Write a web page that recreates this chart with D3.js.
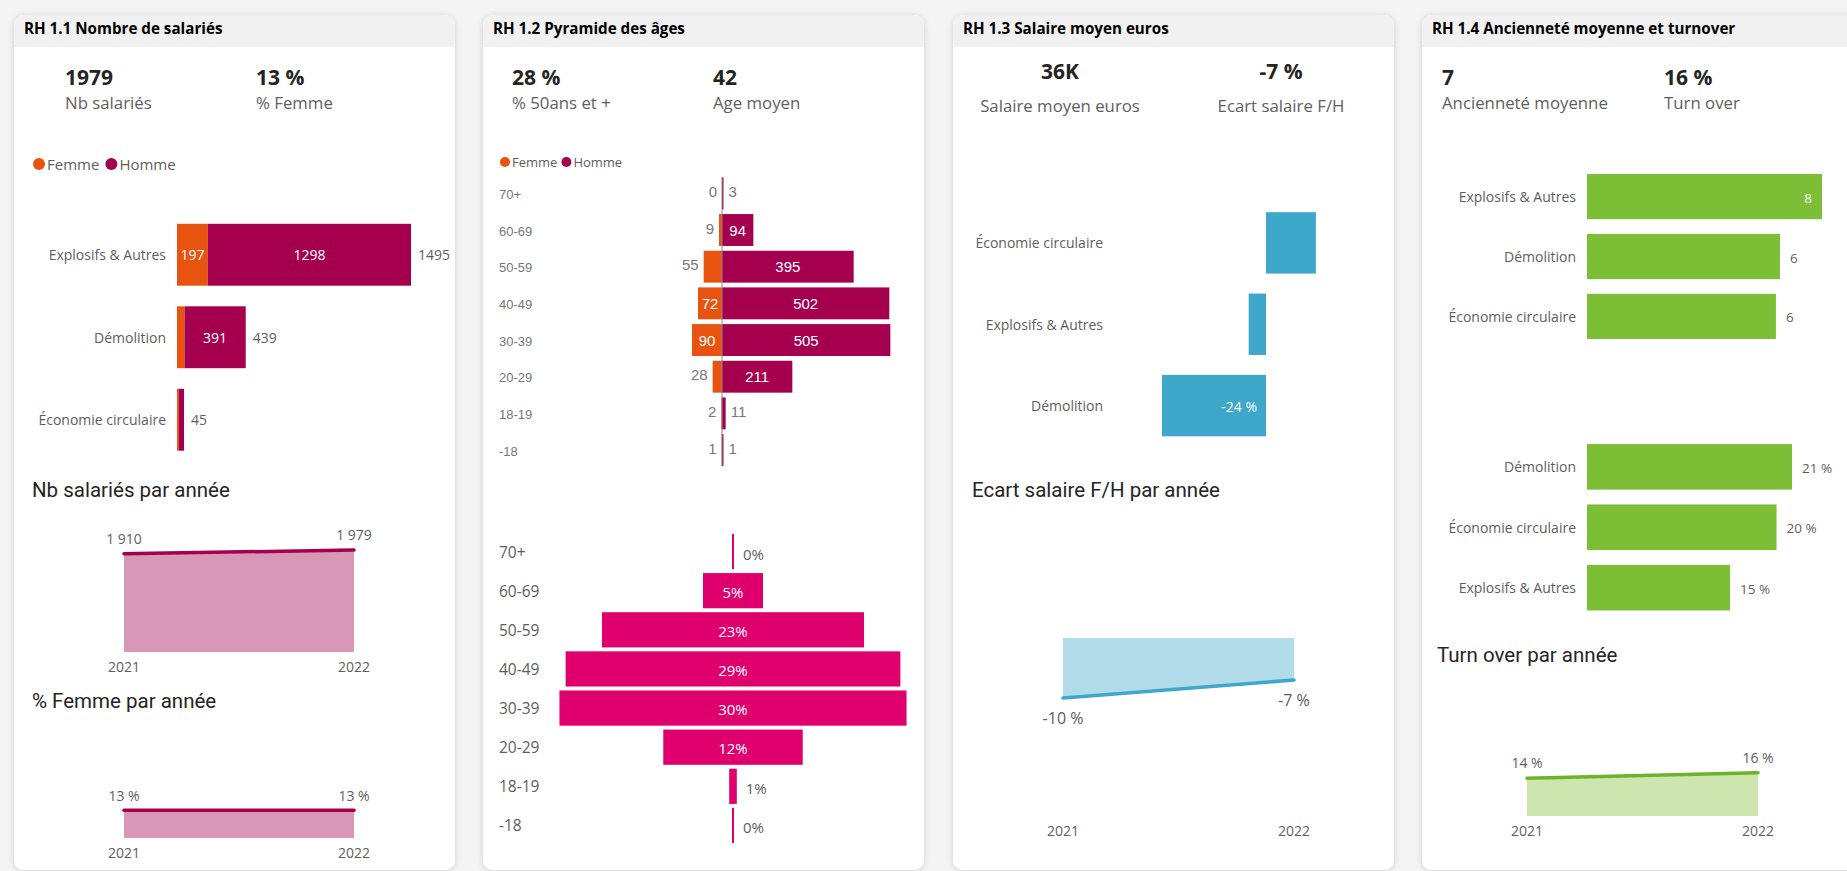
<!DOCTYPE html>
<html>
<head>
<meta charset="utf-8">
<script src="https://cdn.jsdelivr.net/npm/d3@7"></script>
<style>
  html, body { margin: 0; padding: 0; background: #f4f4f4; }
  svg { display: block; }
</style>
</head>
<body>
<svg id="dash" width="1847" height="871"></svg>
<script>
// ---------- Données ----------
const divisions = ["Explosifs & Autres", "Démolition", "Économie circulaire"];
const effectifFemme = [197, 48, 12];
const effectifHomme = [1298, 391, 33];

const years = ["2021", "2022"];
const effectifParAnnee = [1910, 1979];
const partFemmeParAnnee = [0.13, 0.13];

const ageGroups = ["70+", "60-69", "50-59", "40-49", "30-39", "20-29", "18-19", "-18"];
const ageFemme = [0, 9, 55, 72, 90, 28, 2, 1];
const ageHomme = [3, 94, 395, 502, 505, 211, 11, 1];
const agePart = [0.0015, 0.052, 0.227, 0.29, 0.3007, 0.1208, 0.0066, 0.001];

const ecartDivisions = ["Économie circulaire", "Explosifs & Autres", "Démolition"];
const ecartSalaire = [0.115, -0.04, -0.24];
const ecartParAnnee = [-0.10, -0.07];

const ancDivisions = ["Explosifs & Autres", "Démolition", "Économie circulaire"];
const anciennete = [7.6, 6.24, 6.11];

const turnDivisions = ["Démolition", "Économie circulaire", "Explosifs & Autres"];
const turnover = [0.212, 0.196, 0.148];
const turnoverParAnnee = [0.14, 0.16];

const panelTitles = ["RH 1.1 Nombre de salariés", "RH 1.2 Pyramide des âges",
                     "RH 1.3 Salaire moyen euros", "RH 1.4 Ancienneté moyenne et turnover"];
const kpiLabels = [["Nb salariés", "% Femme"], ["% 50ans et +", "Age moyen"],
                   ["Salaire moyen euros", "Ecart salaire F/H"], ["Ancienneté moyenne", "Turn over"]];
const kpiValues = [[1979, 0.13], [0.28, 42], [36000, -0.07], [7, 0.16]];
const kpiKinds  = [["int", "pct"], ["pct", "int"], ["k", "pct"], ["int", "pct"]];

// ---------- Styles ----------
const F_UI = "'Segoe UI', 'Open Sans', sans-serif";
const F_AR = "Arial, 'Liberation Sans', sans-serif";
const F_DIN = "'DIN', Roboto, sans-serif";
const C = {
  femme: "#e8540f", homme: "#a4004f", rose: "#e0006d",
  bleu: "#3ea8ca", bleuClair: "#b3dcea", vert: "#7cbe35", vertLigne: "#6db32a", vertClair: "#cde5ae",
  roseClair: "#d997b6", texte: "#252423", gris: "#605e5c", grisClair: "#777"
};

const fr = d3.formatLocale({decimal: ",", thousands: "\u00a0", grouping: [3], currency: ["", " €"], minus: "-"});
const fmtInt = fr.format(",d");
const fmtPct = v => fr.format(".0f")(v * 100) + " %";
const fmtPctTight = v => fr.format(".0f")(v * 100) + "%";
const fmtKpi = (v, k) => k === "pct" ? fmtPct(v) : k === "k" ? fr.format(".0f")(v / 1000) + "K" : fr.format("d")(v);

const svg = d3.select("#dash");

// ombre des cartes
const defs = svg.append("defs");
const sh = defs.append("filter").attr("id", "ombre").attr("x", "-5%").attr("y", "-5%").attr("width", "110%").attr("height", "110%");
sh.append("feDropShadow").attr("dx", 0).attr("dy", 1).attr("stdDeviation", 3)
  .attr("flood-color", "#000").attr("flood-opacity", 0.16);

function txt(g, x, y, s, o = {}) {
  return g.append("text").attr("x", x).attr("y", y).text(s)
    .attr("font-family", o.font || F_UI).attr("font-size", o.size || 14)
    .attr("font-weight", o.weight || 400).attr("fill", o.fill || C.gris)
    .attr("text-anchor", o.anchor || "start")
    .attr("dominant-baseline", o.baseline || "auto");
}
function textWidth(s, size, font, weight) {
  const t = svg.append("text").text(s).attr("font-size", size).attr("font-family", font)
    .attr("font-weight", weight || 400).attr("visibility", "hidden");
  const w = t.node().getComputedTextLength();
  t.remove();
  return w;
}

// ---------- Cartes ----------
const cardLeft = [14, 483, 953, 1422];
const cardW = 441, cardTop = 15, cardBottom = 870, headH = 32, rad = 10;

cardLeft.forEach((x0, i) => {
  svg.append("rect").attr("x", x0).attr("y", cardTop).attr("width", cardW)
    .attr("height", cardBottom - cardTop).attr("rx", rad).attr("fill", "#fff").attr("filter", "url(#ombre)");
  const p = d3.path();
  p.moveTo(x0, cardTop + headH);
  p.lineTo(x0, cardTop + rad);
  p.arcTo(x0, cardTop, x0 + rad, cardTop, rad);
  p.lineTo(x0 + cardW - rad, cardTop);
  p.arcTo(x0 + cardW, cardTop, x0 + cardW, cardTop + rad, rad);
  p.lineTo(x0 + cardW, cardTop + headH);
  p.closePath();
  svg.append("path").attr("d", p.toString()).attr("fill", "#f1f1f1");
  txt(svg, x0 + 10, 34, panelTitles[i], {size: 15.2, weight: 700, fill: "#000"});
});

// ---------- KPI ----------
const kpiPos = [
  {x: [65, 256], anchor: "start", yv: 85, yl: 109},
  {x: [512, 713], anchor: "start", yv: 85, yl: 109},
  {x: [1060, 1281], anchor: "middle", yv: 79, yl: 112},
  {x: [1442, 1664], anchor: "start", yv: 85, yl: 109}
];
kpiPos.forEach((p, i) => {
  [0, 1].forEach(j => {
    txt(svg, p.x[j], p.yv, fmtKpi(kpiValues[i][j], kpiKinds[i][j]), {size: 21, weight: 700, fill: C.texte, anchor: p.anchor});
    txt(svg, p.x[j], p.yl, kpiLabels[i][j], {size: 16.8, fill: C.gris, anchor: p.anchor});
  });
});

// ---------- Légendes ----------
function legend(x, y, r, size, gap) {
  const g = svg.append("g");
  let cx = x;
  [["Femme", C.femme], ["Homme", C.homme]].forEach(([lab, col]) => {
    g.append("circle").attr("cx", cx + r).attr("cy", y).attr("r", r).attr("fill", col);
    const t = txt(g, cx + 2 * r + 2, y, lab, {size, fill: C.gris, baseline: "central"});
    cx += 2 * r + 2 + t.node().getComputedTextLength() + gap;
  });
}
legend(33, 164, 6, 15, 6);
legend(500, 162, 5, 13, 4);

// ---------- 1.1 Barres empilées par division ----------
{
  const g = svg.append("g");
  const rows = divisions.map((d, i) => ({division: d, Femme: effectifFemme[i], Homme: effectifHomme[i]}));
  const totals = rows.map(r => r.Femme + r.Homme);
  const y = d3.scaleBand().domain(divisions).range([213.5, 461]).paddingInner(0.25).paddingOuter(0.125);
  const x = d3.scaleLinear().domain([0, d3.max(totals)]).range([177, 411]);
  const series = d3.stack().keys(["Femme", "Homme"])(rows);
  const cols = {Femme: C.femme, Homme: C.homme};
  series.forEach(s => {
    s.forEach(seg => {
      const x0 = x(seg[0]), w = x(seg[1]) - x(seg[0]);
      const yy = y(seg.data.division);
      g.append("rect").attr("x", x0).attr("y", yy).attr("width", w).attr("height", y.bandwidth())
        .attr("fill", cols[s.key]);
      const v = seg[1] - seg[0];
      const lab = String(v);
      if (w >= textWidth(lab, 14, F_UI) + 6) {
        txt(g, x0 + w / 2, yy + y.bandwidth() / 2, lab, {size: 14, fill: "#fff", anchor: "middle", baseline: "central"});
      }
    });
  });
  rows.forEach((r, i) => {
    const yc = y(r.division) + y.bandwidth() / 2;
    txt(g, x(totals[i]) + 7, yc, String(totals[i]), {size: 14, fill: C.gris, baseline: "central"});
    txt(g, 166, yc, r.division, {size: 14, fill: C.gris, anchor: "end", baseline: "central"});
  });
}

// ---------- Aires annuelles ----------
function yearArea(cfg) {
  const g = svg.append("g");
  const x = d3.scalePoint().domain(years).range(cfg.xr);
  const y = d3.scaleLinear().domain(cfg.domain).range(cfg.yr);
  const data = years.map((yr, i) => ({yr, v: cfg.values[i]}));
  g.append("path").datum(data).attr("fill", cfg.fill)
    .attr("d", d3.area().x(d => x(d.yr)).y0(y(0)).y1(d => y(d.v)));
  g.append("path").datum(data).attr("fill", "none").attr("stroke", cfg.stroke).attr("stroke-width", 3.5)
    .attr("stroke-linecap", "round")
    .attr("d", d3.line().x(d => x(d.yr)).y(d => y(d.v)));
  data.forEach(d => {
    const below = d.v < 0;
    txt(g, x(d.yr), y(d.v) + (below ? cfg.labOff : -cfg.labOff), cfg.fmt(d.v),
      {size: cfg.labSize, fill: C.gris, anchor: "middle", baseline: below ? "hanging" : "auto"});
    txt(g, x(d.yr), cfg.yearY, d.yr, {size: 14, fill: C.gris, anchor: "middle"});
  });
  txt(g, cfg.titleX, cfg.titleY, cfg.title, {font: F_DIN, size: 20.5, weight: 400, fill: C.texte});
}
yearArea({xr: [124, 354], domain: [0, 2000], yr: [652, 549], values: effectifParAnnee,
  fill: C.roseClair, stroke: C.homme, fmt: fmtInt, labOff: 10, labSize: 14, yearY: 672,
  title: "Nb salariés par année", titleX: 32, titleY: 497});
yearArea({xr: [124, 354], domain: [0, 0.28], yr: [838, 778], values: partFemmeParAnnee,
  fill: C.roseClair, stroke: C.homme, fmt: fmtPct, labOff: 9, labSize: 14, yearY: 858,
  title: "% Femme par année", titleX: 32, titleY: 708});
yearArea({xr: [1063, 1294], domain: [-0.15, 0], yr: [728, 638], values: ecartParAnnee,
  fill: C.bleuClair, stroke: C.bleu, fmt: fmtPct, labOff: 12, labSize: 16, yearY: 836,
  title: "Ecart salaire F/H par année", titleX: 972, titleY: 497});
yearArea({xr: [1527, 1758], domain: [0, 0.2], yr: [816, 762], values: turnoverParAnnee,
  fill: C.vertClair, stroke: C.vertLigne, fmt: fmtPct, labOff: 10, labSize: 14, yearY: 836,
  title: "Turn over par année", titleX: 1437, titleY: 662});

// ---------- 1.2 Pyramide Femme / Homme ----------
{
  const g = svg.append("g");
  const y = d3.scaleBand().domain(ageGroups).range([175, 468.4]).paddingInner(0.13).paddingOuter(0.065);
  const x = d3.scaleLinear().domain([-600, 600]).range([522, 922]);
  const fs = 15;
  ageGroups.forEach((a, i) => {
    const yy = y(a), h = y.bandwidth(), yc = yy + h / 2;
    txt(g, 499, yc + 1, a, {font: F_AR, size: 13, fill: C.grisClair, baseline: "central"});
    // Femme à gauche
    const wf = x(0) - x(-ageFemme[i]);
    g.append("rect").attr("x", x(-ageFemme[i])).attr("y", yy).attr("width", wf).attr("height", h).attr("fill", C.femme);
    const lf = String(ageFemme[i]);
    if (wf >= textWidth(lf, fs, F_AR) + 6) {
      txt(g, x(-ageFemme[i]) + wf / 2, yc, lf, {font: F_AR, size: fs, fill: "#fff", anchor: "middle", baseline: "central"});
    } else {
      txt(g, x(-ageFemme[i]) - 5, yc - 2, lf, {font: F_AR, size: fs, fill: C.grisClair, anchor: "end", baseline: "central"});
    }
    // Homme à droite
    const wh = Math.max(1.5, x(ageHomme[i]) - x(0));
    g.append("rect").attr("x", x(0)).attr("y", yy).attr("width", wh).attr("height", h).attr("fill", C.homme);
    const lh = String(ageHomme[i]);
    if (wh >= textWidth(lh, fs, F_AR) + 6) {
      txt(g, x(0) + wh / 2, yc, lh, {font: F_AR, size: fs, fill: "#fff", anchor: "middle", baseline: "central"});
    } else {
      txt(g, x(0) + wh + 5, yc - 2, lh, {font: F_AR, size: fs, fill: C.grisClair, baseline: "central"});
    }
  });
  g.append("line").attr("x1", x(0)).attr("x2", x(0)).attr("y1", y.range()[0] + 2).attr("y2", y.range()[1] - 2)
    .attr("stroke", "#8a8a8a").attr("stroke-width", 1);
}

// ---------- 1.2 Répartition par âge (entonnoir) ----------
{
  const g = svg.append("g");
  const y = d3.scaleBand().domain(ageGroups).range([532, 845]).paddingInner(0.1).paddingOuter(0.05);
  const w = d3.scaleLinear().domain([0, 0.35]).range([0, 404]);
  const cx = 733;
  ageGroups.forEach((a, i) => {
    const yy = y(a), h = y.bandwidth(), yc = yy + h / 2;
    const bw = Math.max(2, w(agePart[i]));
    txt(g, 499, yc, a, {size: 15.5, fill: C.gris, baseline: "central"});
    g.append("rect").attr("x", cx - bw / 2).attr("y", yy).attr("width", bw).attr("height", h).attr("fill", C.rose);
    const lab = fmtPctTight(agePart[i]);
    if (bw >= textWidth(lab, 15, F_UI) + 8) {
      txt(g, cx, yc + 1, lab, {size: 15, fill: "#fff", anchor: "middle", baseline: "central"});
    } else {
      txt(g, cx + bw / 2 + 9, yc + 2, lab, {size: 15, fill: C.gris, baseline: "central"});
    }
  });
}

// ---------- 1.3 Écart salaire par division ----------
{
  const g = svg.append("g");
  const y = d3.scaleBand().domain(ecartDivisions).range([202, 446.5]).paddingInner(0.245).paddingOuter(0.125);
  const x = d3.scaleLinear().domain([-0.3, 0.2]).range([1136, 1352.7]);
  ecartDivisions.forEach((d, i) => {
    const v = ecartSalaire[i], yy = y(d), h = y.bandwidth(), yc = yy + h / 2;
    const x0 = Math.min(x(0), x(v)), bw = Math.abs(x(v) - x(0));
    g.append("rect").attr("x", x0).attr("y", yy).attr("width", bw).attr("height", h).attr("fill", C.bleu);
    txt(g, 1103, yc, d, {size: 14, fill: C.gris, anchor: "end", baseline: "central"});
    const lab = fmtPct(v);
    if (bw >= 80) {
      txt(g, x(0) - 9, yc + 1, lab, {size: 14, fill: "#fff", anchor: "end", baseline: "central"});
    }
  });
}

// ---------- 1.4 Ancienneté et turnover par division ----------
function hbars(cats, vals, range, xmax, fmt) {
  const g = svg.append("g");
  const y = d3.scaleBand().domain(cats).range(range).paddingInner(0.245).paddingOuter(0.125);
  const x = d3.scaleLinear().domain([0, d3.max(vals)]).range([1587, xmax]);
  cats.forEach((c, i) => {
    const yy = y(c), h = y.bandwidth(), yc = yy + h / 2;
    g.append("rect").attr("x", x(0)).attr("y", yy).attr("width", x(vals[i]) - x(0)).attr("height", h).attr("fill", C.vert);
    txt(g, 1576, yc, c, {size: 14, fill: C.gris, anchor: "end", baseline: "central"});
    const lab = fmt(vals[i]);
    const tw = textWidth(lab, 13.5, F_UI);
    if (x(vals[i]) + 10 + tw > 1835) {
      txt(g, x(vals[i]) - 10, yc + 1, lab, {size: 13.5, fill: "#fff", anchor: "end", baseline: "central"});
    } else {
      txt(g, x(vals[i]) + 10, yc + 1, lab, {size: 13.5, fill: C.gris, baseline: "central"});
    }
  });
}
hbars(ancDivisions, anciennete, [166.5, 346.5], 1822, v => fr.format(".0f")(v));
hbars(turnDivisions, turnover, [436.5, 618], 1792, fmtPct);
</script>
</body>
</html>
